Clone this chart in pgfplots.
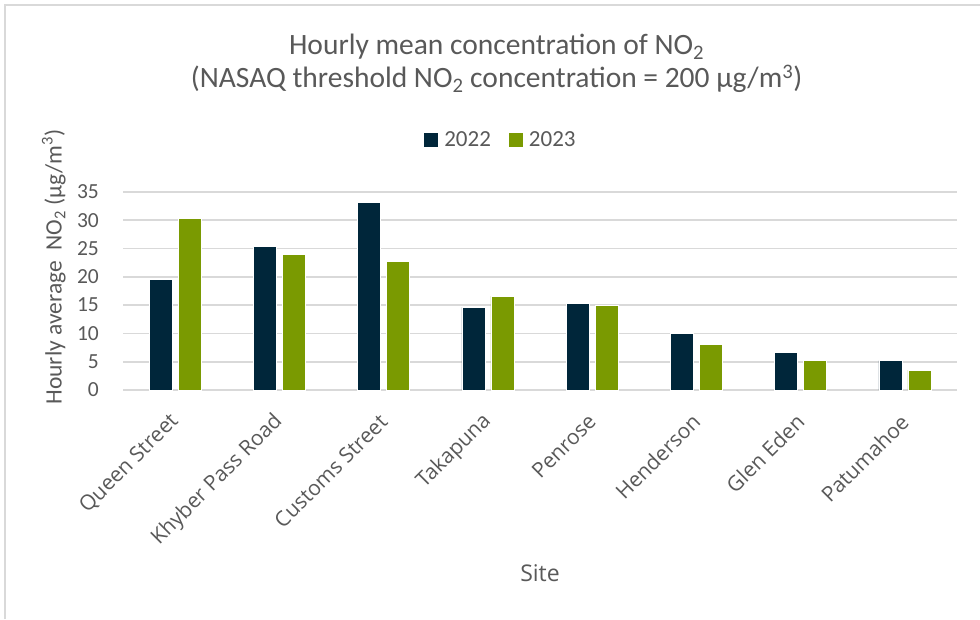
\documentclass[border=0pt]{standalone}
\usepackage{fontspec}
\setmainfont{Carlito}
\newfontfamily\opensans{Open Sans}
\usepackage{pgfplots}
\pgfplotsset{compat=1.18}
\definecolor{navy}{HTML}{00263A}
\definecolor{olivegr}{HTML}{7A9A01}
\definecolor{txt}{HTML}{595959}
\definecolor{gridc}{HTML}{D9D9D9}
\begin{document}
\begin{tikzpicture}
\useasboundingbox (0pt,0pt) rectangle (980pt,619pt);
\fill[white] (0pt,0pt) rectangle (980pt,619pt);
\draw[gridc, line width=1.5pt] (5pt,0pt) -- (5pt,614pt) -- (980pt,614pt);
\begin{axis}[
  at={(123pt,229pt)}, anchor=south west,
  scale only axis, width=834pt, height=198pt,
  xmin=-0.5, xmax=7.5, ymin=0, ymax=35,
  enlargelimits=false,
  ybar=6pt, bar width=23pt,
  xtick={0,...,7},
  xticklabels={Queen Street,Khyber Pass Road,Customs Street,Takapuna,Penrose,Henderson,Glen Eden,Patumahoe},
  ytick={0,5,...,35},
  /pgf/number format/assume math mode=true,
  major tick length=0pt,
  axis line style={draw=none},
  tick style={draw=none},
  ymajorgrids,
  major grid style={gridc, line width=1.6pt},
  yticklabel style={font=\fontsize{21.5}{25}\selectfont, text=txt, inner sep=0pt, xshift=-24pt},
  xticklabel style={font=\opensans\fontsize{21}{25}\selectfont, text=txt, inner sep=0pt, yshift=-28pt, rotate=45, anchor=east},
  ylabel={Hourly average \ NO\textsubscript{2} (µg/m\textsuperscript{3})},
  ylabel style={at={(axis description cs:-0.0830,0.621)}, anchor=center, font=\fontsize{23.5}{27}\selectfont, text=txt},
  xlabel={Site},
  xlabel style={at={(axis description cs:0.5,-0.924)}, anchor=center, font=\opensans\fontsize{23}{27}\selectfont, text=txt},
  title={Hourly mean concentration of NO\textsubscript{2}\\(NASAQ threshold NO\textsubscript{2} concentration = 200 µg/m\textsuperscript{3})},
  title style={at={(axis description cs:0.448,1.62)}, anchor=center, align=center, font=\fontsize{29.5}{33}\selectfont, text=txt},
  legend style={at={(axis description cs:0.452,1.263)}, anchor=center, draw=none, fill=none,
    font=\fontsize{23}{27}\selectfont, text=txt,
    /tikz/every even column/.append style={column sep=18pt},
    /tikz/every node/.append style={inner xsep=0pt}},
  legend columns=2,
  legend image code/.code={\path[#1,draw=none] (0pt,-7pt) rectangle (14pt,7pt);},
  legend cell align=left,
]
\addplot[fill=navy, draw=white, line width=0.6pt] coordinates {
  (0,19.5) (1,25.4) (2,33.1) (3,14.6) (4,15.3) (5,10.0) (6,6.7) (7,5.2)};
\addplot[fill=olivegr, draw=white, line width=0.6pt] coordinates {
  (0,30.4) (1,24.0) (2,22.8) (3,16.6) (4,14.9) (5,8.0) (6,5.2) (7,3.5)};
\legend{\hspace{6pt}2022,\hspace{6pt}2023}
\end{axis}
\end{tikzpicture}
\end{document}
